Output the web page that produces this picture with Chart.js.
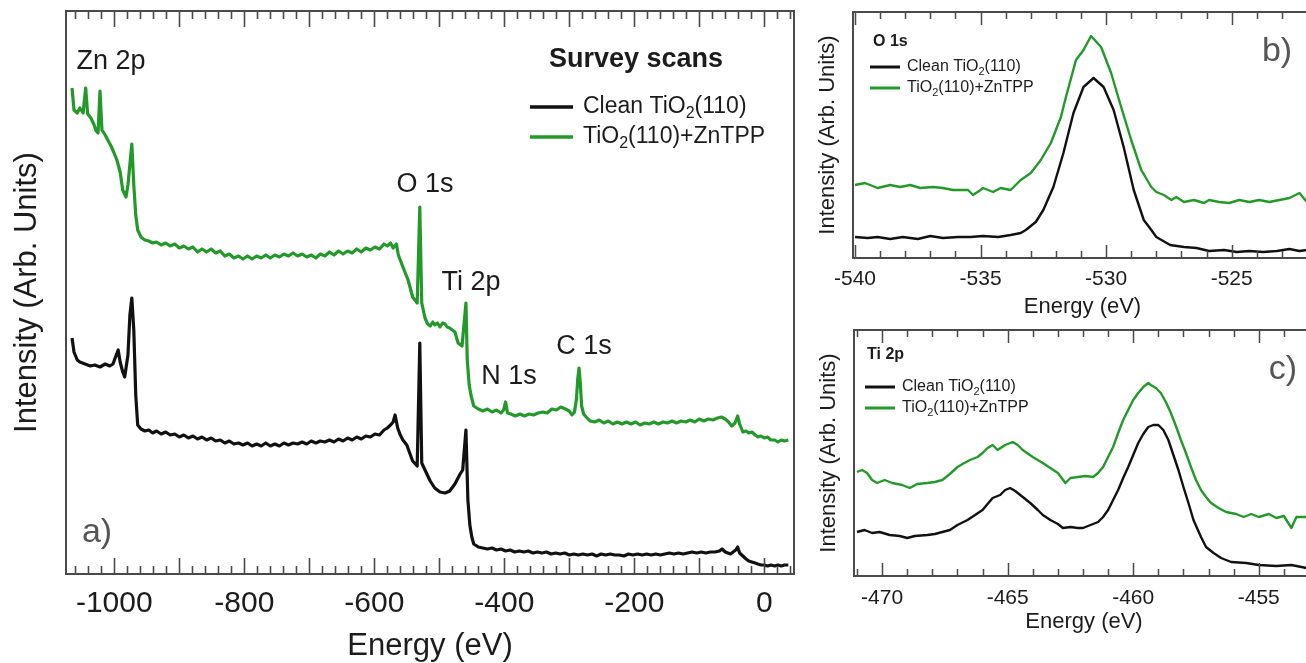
<!DOCTYPE html>
<html>
<head>
<meta charset="utf-8">
<title>XPS TiO2(110) + ZnTPP</title>
<script src="https://cdn.jsdelivr.net/npm/chart.js@4.4.1/dist/chart.umd.min.js"></script>
<style>
  html, body { margin: 0; padding: 0; background: #fff; width: 1306px; height: 663px; overflow: hidden; position: relative; }
  canvas { position: absolute; }
  #survey { left: 0; top: 0; }
  #o1s { left: 800px; top: 0; }
  #ti2p { left: 800px; top: 320px; }
</style>
</head>
<body>
<canvas id="survey" width="810" height="663"></canvas>
<canvas id="o1s" width="530" height="330"></canvas>
<canvas id="ti2p" width="530" height="343"></canvas>
<script>
// [binding energy (negative eV), intensity (arb. units)]

// a) survey scans
const surveyClean = [
  [-1065,236],[-1062,222],[-1057,214],[-1053,212],[-1045,210],[-1037,208],[-1030,209],[-1022,207],[-1014,210],[-1007,208],
  [-1002,210],[-997,219],[-994,224],[-991,212],[-987,202],[-984,197],[-979,219],[-976,259],[-973,276],[-970,244],[-967,179],
  [-964,149],[-959,145],[-953,143],[-947,144],[-941,141],[-935,143],[-928,140],[-921,142],[-914,139],[-907,140],[-900,137],
  [-893,139],[-886,136],[-879,138],[-872,135],[-865,137],[-858,134],[-851,136],[-844,133],[-837,134],[-830,131],[-823,133],
  [-816,130],[-809,131],[-802,129],[-795,131],[-788,128],[-781,130],[-774,128],[-767,131],[-760,128],[-753,130],[-746,128],
  [-739,131],[-732,129],[-725,131],[-718,130],[-711,132],[-704,130],[-697,133],[-690,131],[-683,133],[-676,132],[-669,134],
  [-662,132],[-655,135],[-648,133],[-641,136],[-634,134],[-627,137],[-620,135],[-613,138],[-606,137],[-599,140],[-592,139],
  [-585,144],[-580,146],[-575,149],[-571,152],[-568,159],[-564,146],[-560,139],[-556,134],[-550,129],[-545,120],[-541,113],
  [-534,108],[-530,231],[-527,111],[-522,104],[-514,93],[-507,86],[-499,82],[-491,81],[-484,83],[-476,90],[-468,100],
  [-464,104],[-459,144],[-456,74],[-453,49],[-450,37],[-447,30],[-440,27],[-433,26],[-426,25],[-419,26],[-412,24],
  [-405,25],[-398,23],[-391,24],[-384,22],[-377,23],[-370,22],[-363,23],[-356,21],[-349,22],[-342,21],[-335,22],
  [-328,20],[-321,21],[-314,20],[-307,21],[-300,19],[-293,20],[-286,19],[-279,20],[-272,19],[-265,20],[-258,18],
  [-251,20],[-244,19],[-237,20],[-230,19],[-223,19],[-216,18],[-209,20],[-202,19],[-195,20],[-188,19],[-181,20],
  [-174,19],[-167,20],[-160,19],[-153,20],[-146,21],[-139,20],[-132,21],[-125,20],[-118,21],[-111,22],[-104,21],
  [-97,22],[-90,21],[-83,22],[-76,22],[-69,23],[-65,25],[-60,22],[-56,21],[-52,20],[-48,22],[-44,24],[-41,27],
  [-38,21],[-33,18],[-28,15],[-24,13],[-19,12],[-14,11],[-10,10],[-5,9],[0,9],[5,8],[10,9],[16,8],[21,9],[26,8],[31,9],[37,9]
];
const surveyZnTPP = [
  [-1065,486],[-1062,464],[-1057,461],[-1053,466],[-1048,461],[-1044,486],[-1041,460],[-1036,456],[-1031,449],[-1028,443],
  [-1025,441],[-1022,483],[-1019,444],[-1014,439],[-1010,434],[-1005,428],[-1001,422],[-996,414],[-991,402],[-987,384],
  [-982,377],[-979,389],[-973,430],[-970,389],[-967,359],[-964,344],[-959,337],[-953,334],[-947,333],[-941,331],[-935,332],
  [-928,329],[-921,331],[-914,328],[-907,330],[-900,326],[-893,328],[-886,325],[-879,327],[-872,322],[-865,325],[-858,322],
  [-851,325],[-844,321],[-837,323],[-830,318],[-823,320],[-816,316],[-809,318],[-802,315],[-795,318],[-788,315],[-781,318],
  [-774,316],[-767,319],[-760,316],[-753,319],[-746,317],[-739,320],[-732,318],[-725,321],[-718,318],[-711,320],[-704,317],
  [-697,319],[-690,316],[-683,320],[-676,318],[-669,322],[-662,319],[-655,323],[-648,320],[-641,323],[-634,321],[-627,325],
  [-620,322],[-613,326],[-606,324],[-599,327],[-592,325],[-585,330],[-580,328],[-575,331],[-571,326],[-566,330],[-563,319],
  [-556,307],[-548,294],[-541,277],[-534,271],[-530,367],[-527,271],[-522,256],[-518,250],[-514,248],[-510,252],[-507,249],
  [-503,251],[-499,247],[-495,251],[-491,250],[-488,247],[-484,246],[-480,244],[-476,242],[-471,231],[-465,228],[-459,271],
  [-457,214],[-454,189],[-451,178],[-447,168],[-440,165],[-433,163],[-426,165],[-419,162],[-412,164],[-405,161],[-401,164],
  [-398,172],[-395,161],[-390,160],[-383,158],[-376,160],[-369,158],[-362,160],[-355,159],[-348,161],[-341,162],[-334,161],
  [-327,165],[-320,164],[-313,167],[-306,165],[-300,163],[-296,159],[-292,162],[-289,175],[-287,195],[-285,206],[-283,190],
  [-281,168],[-278,160],[-274,157],[-268,153],[-261,152],[-254,154],[-247,151],[-240,153],[-233,150],[-226,152],[-219,150],
  [-212,152],[-205,150],[-198,152],[-191,149],[-184,151],[-177,150],[-170,152],[-163,150],[-156,152],[-149,151],[-142,153],
  [-135,151],[-128,153],[-121,152],[-114,154],[-107,152],[-100,155],[-93,153],[-86,155],[-79,154],[-72,156],[-66,157],
  [-60,155],[-55,152],[-50,148],[-45,151],[-41,158],[-38,150],[-33,142],[-28,143],[-24,141],[-19,142],[-14,139],[-10,137],
  [-5,138],[0,136],[5,137],[10,134],[16,134],[21,132],[26,134],[31,133],[37,134]
];

// b) O 1s region
const o1sClean = [
  [-540.0,21],[-539.5,20],[-539.1,21],[-538.6,19],[-538.1,21],[-537.5,19],[-537.0,22],[-536.5,20],[-535.9,21],[-535.4,21],
  [-534.9,22],[-534.3,21],[-533.8,23],[-533.4,25],[-533.2,28],[-532.8,36],[-532.5,48],[-532.1,71],[-531.7,105],[-531.3,145],
  [-530.9,171],[-530.5,180],[-530.1,171],[-529.7,148],[-529.3,111],[-528.9,68],[-528.5,38],[-528.2,28],[-528.0,21],[-527.45,13],
  [-526.9,11],[-526.4,10],[-525.9,7],[-525.3,8],[-524.8,6],[-524.3,7],[-523.75,6],[-523.2,7],[-522.7,9],[-522.3,7],[-522.0,8],[-521.5,8]
];
const o1sZnTPP = [
  [-540.0,73],[-539.6,75],[-539.1,70],[-538.6,73],[-538.2,71],[-537.8,73],[-537.4,70],[-536.9,71],[-536.5,70],[-536.1,68],
  [-535.5,68],[-535.3,63],[-535.0,68],[-534.9,70],[-534.5,66],[-534.2,70],[-533.8,68],[-533.6,73],[-533.4,78],[-533.0,85],
  [-532.6,98],[-532.2,115],[-531.8,141],[-531.6,161],[-531.2,198],[-530.9,208],[-530.6,222],[-530.2,211],[-529.8,185],[-529.4,151],
  [-529.0,118],[-528.6,88],[-528.2,71],[-528.0,66],[-527.7,63],[-527.4,58],[-527.2,61],[-526.9,56],[-526.5,58],[-526.1,55],
  [-525.9,58],[-525.5,56],[-525.1,55],[-524.7,58],[-524.3,56],[-523.9,58],[-523.5,56],[-523.1,58],[-522.7,60],[-522.3,65],
  [-522.0,56],[-521.5,58]
];

// c) Ti 2p region
const ti2pClean = [
  [-471.0,44],[-470.7,46],[-470.4,43],[-470.1,44],[-469.7,41],[-469.3,40],[-469.0,38],[-468.7,40],[-468.2,41],[-467.9,42],
  [-467.6,44],[-467.3,46],[-467.0,51],[-466.6,56],[-466.3,61],[-466.0,66],[-465.8,72],[-465.6,78],[-465.3,81],[-465.1,86],
  [-464.9,88],[-464.7,85],[-464.4,79],[-464.1,73],[-463.8,66],[-463.6,61],[-463.3,56],[-463.0,52],[-462.8,48],[-462.5,49],
  [-462.2,48],[-462.0,48],[-461.7,51],[-461.4,54],[-461.2,59],[-461.0,66],[-460.8,76],[-460.6,86],[-460.4,98],[-460.2,109],
  [-460.0,121],[-459.8,133],[-459.6,142],[-459.4,149],[-459.2,151],[-459.0,151],[-458.8,146],[-458.6,136],[-458.4,121],[-458.2,106],
  [-458.0,89],[-457.8,73],[-457.6,56],[-457.3,39],[-457.1,29],[-456.8,23],[-456.5,18],[-456.1,14],[-455.5,13],[-455.0,11],
  [-454.3,10],[-453.7,11],[-453.1,8],[-452.5,8]
];
const ti2pZnTPP = [
  [-471.0,104],[-470.8,106],[-470.6,103],[-470.4,96],[-470.2,93],[-469.9,96],[-469.6,93],[-469.2,91],[-468.9,88],[-468.6,92],
  [-468.2,93],[-467.9,94],[-467.6,96],[-467.3,102],[-467.0,109],[-466.8,112],[-466.5,116],[-466.2,119],[-466.0,123],[-465.8,128],
  [-465.6,131],[-465.4,126],[-465.1,131],[-464.8,134],[-464.6,131],[-464.4,126],[-464.0,119],[-463.6,113],[-463.3,108],[-463.0,103],
  [-462.7,93],[-462.5,98],[-462.2,99],[-461.9,100],[-461.6,99],[-461.4,103],[-461.2,109],[-461.0,119],[-460.8,129],[-460.6,143],
  [-460.4,156],[-460.2,166],[-460.0,176],[-459.8,183],[-459.6,189],[-459.4,193],[-459.3,191],[-459.1,188],[-458.9,183],[-458.7,174],
  [-458.5,163],[-458.3,150],[-458.1,136],[-457.9,123],[-457.7,109],[-457.5,96],[-457.3,86],[-457.1,79],[-456.9,73],[-456.6,68],
  [-456.3,64],[-455.9,62],[-455.6,59],[-455.3,62],[-455.0,59],[-454.6,62],[-454.3,58],[-454.0,60],[-453.7,48],[-453.5,59],
  [-453.1,59],[-452.5,58]
];

const surveyTicks = [-1000, -800, -600, -400, -200, 0];
const o1sTicks = [-540, -535, -530, -525];
const ti2pTicks = [-470, -465, -460, -455];

const seriesNames = ['Clean TiO2(110)', 'TiO2(110)+ZnTPP'];
const peakNames = ['Zn 2p', 'O 1s', 'Ti 2p', 'N 1s', 'C 1s'];

const FONT = '"Liberation Sans", Arial, Helvetica, sans-serif';
const INK = '#1c1c1c';
const CLEAN = '#111111';
const ZNTPP = '#23992a';

const pts = arr => arr.map(p => ({ x: p[0], y: p[1] }));

function series(clean, zn, width) {
  return [
    { label: seriesNames[0], data: pts(clean), borderColor: CLEAN, borderWidth: width },
    { label: seriesNames[1], data: pts(zn), borderColor: ZNTPP, borderWidth: width }
  ].map(d => Object.assign(d, { pointRadius: 0, tension: 0, fill: false, borderJoinStyle: 'round' }));
}

// "2" following "TiO" is drawn as a subscript
function drawSubText(ctx, text, x, y, size) {
  const pieces = text.split(/(?<=TiO)2/);
  let cx = x;
  pieces.forEach((p, i) => {
    if (i > 0) {
      ctx.font = Math.round(size * 0.68) + 'px ' + FONT;
      ctx.fillText('2', cx, y + size * 0.3);
      cx += ctx.measureText('2').width;
    }
    ctx.font = size + 'px ' + FONT;
    ctx.fillText(p, cx, y);
    cx += ctx.measureText(p).width;
  });
}

// box around the plot area with inward ticks on top and bottom
const framePlugin = {
  id: 'frame',
  afterDatasetsDraw(chart, args, o) {
    const { ctx, chartArea: a } = chart;
    const x = chart.scales.x;
    ctx.save();
    ctx.strokeStyle = '#4a4a4a';
    ctx.lineWidth = o.tickWidth;
    ctx.beginPath();
    const n0 = Math.ceil(x.min / o.minor);
    const n1 = Math.floor(x.max / o.minor);
    for (let n = n0; n <= n1; n++) {
      const v = n * o.minor;
      const isMajor = Math.abs(v / o.major - Math.round(v / o.major)) < 1e-6;
      const len = isMajor ? o.majorLen : o.minorLen;
      const px = Math.round(x.getPixelForValue(v)) + 0.5;
      ctx.moveTo(px, a.top); ctx.lineTo(px, a.top + len);
      ctx.moveTo(px, a.bottom); ctx.lineTo(px, a.bottom - len);
    }
    ctx.stroke();
    ctx.lineWidth = o.width;
    ctx.strokeRect(a.left, a.top, a.right - a.left, a.bottom - a.top);
    ctx.restore();
  }
};

// peak names, panel letters and the legend
const notesPlugin = {
  id: 'notes',
  afterDraw(chart, args, o) {
    const ctx = chart.ctx;
    ctx.save();
    ctx.textBaseline = 'middle';
    (o.items || []).forEach(it => {
      ctx.fillStyle = it.color || INK;
      ctx.textAlign = it.align || 'center';
      ctx.font = (it.bold ? 'bold ' : '') + it.size + 'px ' + FONT;
      ctx.fillText(it.t, it.x, it.y);
    });
    const lg = o.legend;
    if (lg) {
      ctx.textAlign = 'left';
      chart.data.datasets.forEach((d, i) => {
        const y = lg.ys[i];
        ctx.strokeStyle = d.borderColor;
        ctx.lineWidth = lg.lw;
        ctx.beginPath();
        ctx.moveTo(lg.x1, y); ctx.lineTo(lg.x2, y);
        ctx.stroke();
        ctx.fillStyle = INK;
        drawSubText(ctx, d.label, lg.tx, y, lg.size);
      });
    }
    ctx.restore();
  }
};

function makeChart(id, datasets, o) {
  return new Chart(document.getElementById(id), {
    type: 'line',
    data: { datasets: datasets },
    options: {
      responsive: false,
      animation: false,
      devicePixelRatio: 1,
      layout: { padding: o.pad },
      plugins: {
        legend: { display: false },
        tooltip: { enabled: false },
        frame: o.frame,
        notes: o.notes
      },
      scales: {
        x: {
          type: 'linear', min: o.xmin, max: o.xmax,
          grid: { display: false }, border: { display: false },
          afterBuildTicks: s => { s.ticks = o.ticks.map(v => ({ value: v })); },
          afterFit: s => { s.height = o.xh; },
          ticks: {
            autoSkip: false, maxRotation: 0, padding: o.tickPad, color: INK,
            font: { family: FONT, size: o.tickSize },
            callback: v => String(v)
          },
          title: {
            display: true, text: 'Energy (eV)', color: INK,
            font: { family: FONT, size: o.titleSize, lineHeight: 1 },
            padding: { top: 0, bottom: o.titlePad }
          }
        },
        y: {
          type: 'linear', min: 0, max: o.ymax,
          grid: { display: false }, border: { display: false },
          ticks: { display: false },
          afterFit: s => { s.width = o.yw; },
          title: {
            display: true, text: 'Intensity (Arb. Units)', color: INK,
            font: { family: FONT, size: o.ytitleSize, lineHeight: 1 },
            padding: { top: o.ytitlePad, bottom: 0 }
          }
        }
      }
    },
    plugins: [framePlugin, notesPlugin]
  });
}

makeChart('survey', series(surveyClean, surveyZnTPP, 3.2), {
  pad: { left: 0, top: 11, right: 16, bottom: 0 },
  xmin: -1074.3, xmax: 45.7, ymax: 563, ticks: surveyTicks,
  xh: 89, yw: 66, tickPad: 4, tickSize: 30, titleSize: 31, titlePad: 1,
  ytitleSize: 31, ytitlePad: 12,
  frame: { minor: 20, major: 100, minorLen: 8, majorLen: 16, width: 2, tickWidth: 1.6 },
  notes: {
    items: [
      { t: peakNames[0], x: 111, y: 62, size: 27 },
      { t: peakNames[1], x: 425, y: 185, size: 27 },
      { t: peakNames[2], x: 471, y: 283, size: 27 },
      { t: peakNames[3], x: 509, y: 377, size: 27 },
      { t: peakNames[4], x: 584, y: 347, size: 27 },
      { t: 'Survey scans', x: 636, y: 60, size: 27, bold: true },
      { t: 'a)', x: 97, y: 533, size: 34, color: '#555' }
    ],
    legend: { x1: 530, x2: 573, tx: 583, ys: [107, 137], size: 23, lw: 3.5 }
  }
});

makeChart('o1s', series(o1sClean, o1sZnTPP, 2.4), {
  pad: { left: 0, top: 12, right: 18, bottom: 0 },
  xmin: -540.08, xmax: -521.8, ymax: 246, ticks: o1sTicks,
  xh: 72, yw: 53, tickPad: 1, tickSize: 21, titleSize: 22, titlePad: 12,
  ytitleSize: 22, ytitlePad: 17,
  frame: { minor: 1, major: 5, minorLen: 7, majorLen: 13, width: 2, tickWidth: 1.5 },
  notes: {
    items: [
      { t: 'O 1s', x: 73, y: 42, size: 16, bold: true, align: 'left' },
      { t: 'b)', x: 477, y: 52, size: 34, color: '#555' }
    ],
    legend: { x1: 70, x2: 100, tx: 107, ys: [67, 88], size: 16, lw: 3 }
  }
});

makeChart('ti2p', series(ti2pClean, ti2pZnTPP, 2.4), {
  pad: { left: 0, top: 10, right: 16, bottom: 0 },
  xmin: -471.12, xmax: -452.8, ymax: 246, ticks: ti2pTicks,
  xh: 87, yw: 54, tickPad: 2, tickSize: 21, titleSize: 22, titlePad: 30,
  ytitleSize: 22, ytitlePad: 18,
  frame: { minor: 1, major: 5, minorLen: 7, majorLen: 13, width: 2, tickWidth: 1.5 },
  notes: {
    items: [
      { t: 'Ti 2p', x: 67, y: 35, size: 16, bold: true, align: 'left' },
      { t: 'c)', x: 483, y: 50, size: 34, color: '#555' }
    ],
    legend: { x1: 65, x2: 95, tx: 102, ys: [67, 88], size: 16, lw: 3 }
  }
});
</script>
</body>
</html>
